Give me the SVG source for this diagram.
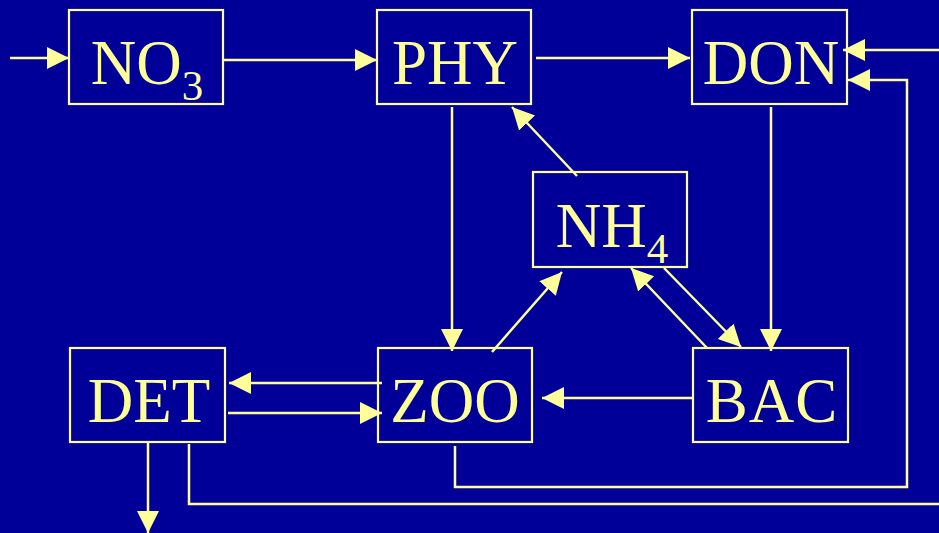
<svg xmlns="http://www.w3.org/2000/svg" width="939" height="533" viewBox="0 0 939 533">
<defs>
<marker id="ah" markerUnits="userSpaceOnUse" markerWidth="23" markerHeight="23" refX="22" refY="11" orient="auto">
<path d="M0,0 L22,11 L0,22 z" fill="#FFFF99"/>
</marker>
<style>
.box{fill:none;stroke:#FFFF99;stroke-width:2.2}
.lbl{font-family:"Liberation Serif","Times New Roman",serif;font-size:63px;fill:#FFFF99;text-anchor:middle}
.sub{font-size:43px}
.c{fill:none;stroke:#FFFF99;stroke-width:2.5;marker-end:url(#ah)}
</style>
</defs>
<rect width="939" height="533" fill="#000099"/>
<g id="connectors">
<path class="c" d="M10,58 L69,58"/>
<path class="c" d="M224,60 L377,60"/>
<path class="c" d="M536,58 L690,58"/>
<path class="c" d="M452,107 L452,351"/>
<path class="c" d="M771,107 L771,351"/>
<path class="c" d="M577,176 L512,107"/>
<path class="c" d="M492,352 L562,272"/>
<path class="c" d="M707,348 L631,268"/>
<path class="c" d="M664,268 L741,347"/>
<path class="c" d="M382,383 L229,383"/>
<path class="c" d="M228,413 L382,413"/>
<path class="c" d="M694,398 L542,398"/>
<path class="c" d="M148,442 L148,533"/>
<path class="c" d="M455,446 L455,487 L907,487 L907,80 L848,80"/>
<path class="c" d="M189,444 L189,504 L950,504 L950,50 L843,50"/>
</g>
<g id="NO3">
<rect class="box" x="69" y="10" width="154" height="94"/>
<text class="lbl" x="147" y="84">NO<tspan class="sub" dy="16">3</tspan></text>
</g>
<g id="PHY">
<rect class="box" x="377" y="10" width="154" height="94"/>
<text class="lbl" x="455" y="84">PHY</text>
</g>
<g id="DON">
<rect class="box" x="692" y="10" width="155" height="94"/>
<text class="lbl" x="771" y="84">DON</text>
</g>
<g id="NH4">
<rect class="box" x="533" y="172" width="154" height="95"/>
<text class="lbl" x="612" y="247">NH<tspan class="sub" dy="16">4</tspan></text>
</g>
<g id="DET">
<rect class="box" x="70" y="348" width="155" height="94"/>
<text class="lbl" x="149" y="422">DET</text>
</g>
<g id="ZOO">
<rect class="box" x="378" y="348" width="154" height="94"/>
<text class="lbl" x="455" y="422">ZOO</text>
</g>
<g id="BAC">
<rect class="box" x="693" y="348" width="155" height="94"/>
<text class="lbl" x="772" y="422" letter-spacing="1">BAC</text>
</g>
</svg>
